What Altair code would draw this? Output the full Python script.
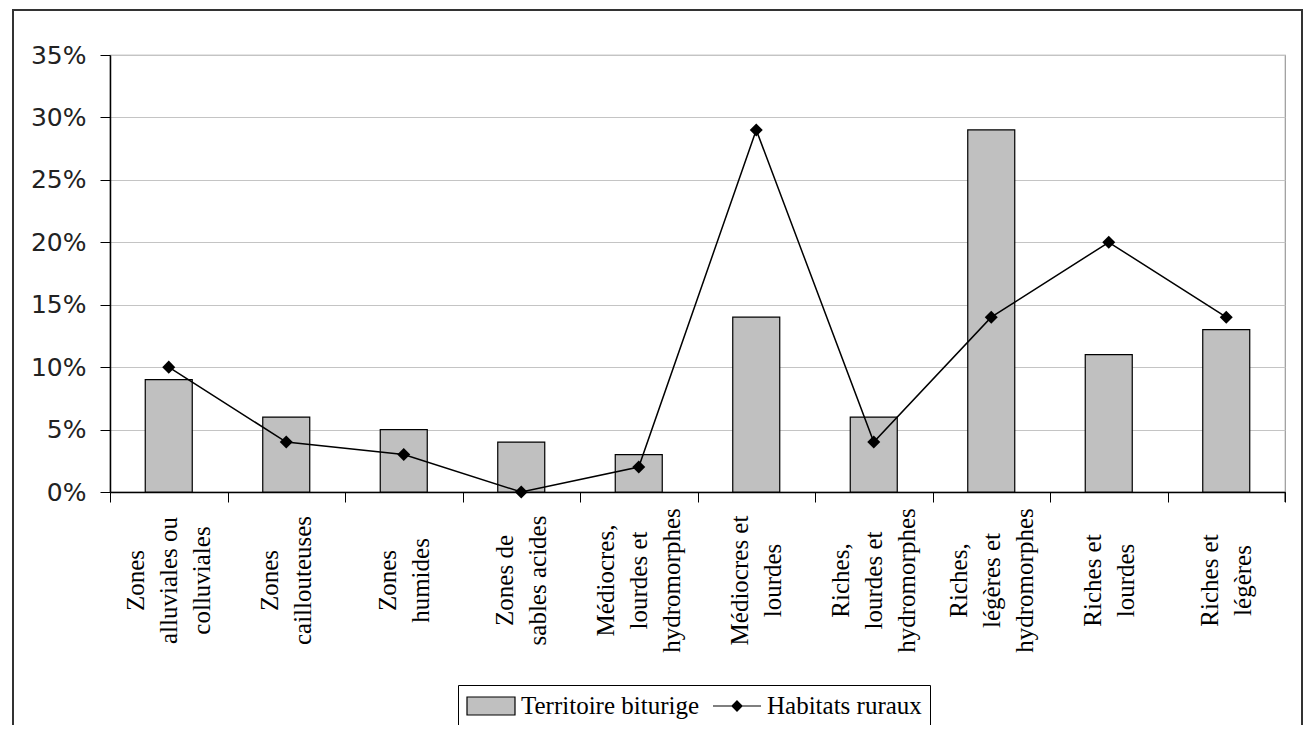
import altair as alt
import pandas as pd

categories = [
    "Zones\nalluviales ou\ncolluviales",
    "Zones\ncaillouteuses",
    "Zones\nhumides",
    "Zones de\nsables acides",
    "Médiocres,\nlourdes et\nhydromorphes",
    "Médiocres et\nlourdes",
    "Riches,\nlourdes et\nhydromorphes",
    "Riches,\nlégères et\nhydromorphes",
    "Riches et\nlourdes",
    "Riches et\nlégères",
]
territoire = [9, 6, 5, 4, 3, 14, 6, 29, 11, 13]
habitats = [10, 4, 3, 0, 2, 29, 4, 14, 20, 14]
series_names = ["Territoire biturige", "Habitats ruraux"]
y_ticks = [0, 5, 10, 15, 20, 25, 30, 35]

bars_df = pd.DataFrame({"cat": categories, "value": territoire, "series": series_names[0]})
line_df = pd.DataFrame({"cat": categories, "value": habitats, "series": series_names[1]})
frame_df = pd.DataFrame({"a": [0]})

W, H = 1175, 437
LH = 33
serif = "Liberation Serif"
BAR_GRAY = "#c0c0c0"

x_enc = alt.X(
    "cat:N",
    sort=categories,
    title=None,
    scale=alt.Scale(paddingInner=0, paddingOuter=0),
    axis=alt.Axis(
        labelExpr="split(datum.label, '\\n')",
        labelAngle=270,
        labelAlign="center",
        labelBaseline="middle",
        labelFont=serif,
        labelFontSize=25,
        labelLineHeight=LH,
        labelColor="black",
        labelPadding=78,
        labelOffset={
            "condition": {
                "test": "length(split(datum.value, '\\n')) == 3",
                "value": -LH,
            },
            "value": -LH / 2,
        },
        tickBand="extent",
        tickSize=10,
        tickColor="black",
        domainColor="black",
        domainWidth=1.5,
        grid=False,
        labelLimit=0,
    ),
)
y_enc = alt.Y(
    "value:Q",
    title=None,
    scale=alt.Scale(domain=[0, 35], nice=False),
    axis=alt.Axis(
        values=y_ticks,
        labelExpr="datum.value + '%'",
        labelFont="DejaVu Sans",
        labelFontSize=25,
        labelColor="#222222",
        labelPadding=14,
        tickSize=10,
        tickColor="black",
        domainColor="black",
        domainWidth=1.5,
        gridColor="#c4c4c4",
        gridWidth=1.2,
    ),
)

fill_scale = alt.Scale(domain=series_names, range=[BAR_GRAY, "black"])
stroke_scale = alt.Scale(domain=series_names, range=["black", "black"])
# legend symbols: unit = 12px; symbol box is 24px wide, drawn 48px wide from the entry start
shape_scale = alt.Scale(
    domain=series_names,
    range=[
        "M-1,-0.75H3V0.75H-1Z",
        "M-1,0H3M1,-0.42L1.42,0L1,0.42L0.58,0Z",
    ],
)
legend = alt.Legend(
    title=None,
    orient="none",
    legendX=348,
    legendY=630,
    direction="horizontal",
    strokeColor="black",
    padding=8,
    labelFont=serif,
    labelFontSize=25,
    labelColor="black",
    labelOffset=29,
    labelLimit=0,
    columnPadding=10,
    symbolSize=576,
    symbolStrokeWidth=1.2,
    symbolOpacity=1,
)

bars = alt.Chart(bars_df).mark_bar(
    width={"band": 0.4}, color=BAR_GRAY, stroke="black", strokeWidth=1.2, opacity=1
).encode(
    x=x_enc,
    y=y_enc,
)

line = alt.Chart(line_df).mark_line(color="black", strokeWidth=1.5).encode(
    x=alt.X("cat:N", sort=categories),
    y=alt.Y("value:Q"),
)

points = alt.Chart(line_df).mark_point(
    filled=True, opacity=1, size=170, shape="diamond", color="black"
).encode(
    x=alt.X("cat:N", sort=categories),
    y=alt.Y("value:Q"),
)

# empty layer that only carries the legend symbols (explicit scale domains)
legend_layer = alt.Chart(line_df).transform_filter("false").mark_point(
    opacity=1, strokeWidth=1.2
).encode(
    x=alt.X("cat:N", sort=categories),
    y=alt.Y("value:Q"),
    fill=alt.Fill("series:N", scale=fill_scale, legend=legend),
    stroke=alt.Stroke("series:N", scale=stroke_scale, legend=legend),
    shape=alt.Shape("series:N", scale=shape_scale, legend=legend),
)

end_tick = alt.Chart(frame_df).mark_rule(color="black", strokeWidth=1).encode(
    x=alt.value(W), y=alt.value(H), y2=alt.value(H + 10)
)

frame = alt.Chart(frame_df).mark_rect(
    fill=None, stroke="#333333", strokeWidth=2, clip=False
).encode(
    x=alt.value(-97), x2=alt.value(1192), y=alt.value(-45), y2=alt.value(700)
)

chart = (
    alt.layer(frame, bars, line, points, legend_layer, end_tick)
    .properties(
        width=W,
        height=H,
        padding={"left": 102, "top": 47, "right": 18, "bottom": 233},
        autosize=alt.AutoSizeParams(type="none"),
        background="white",
    )
    .configure_view(stroke="#999999", strokeWidth=1.2)
)

chart.save("out.html", embed_options={"renderer": "svg", "actions": False})
